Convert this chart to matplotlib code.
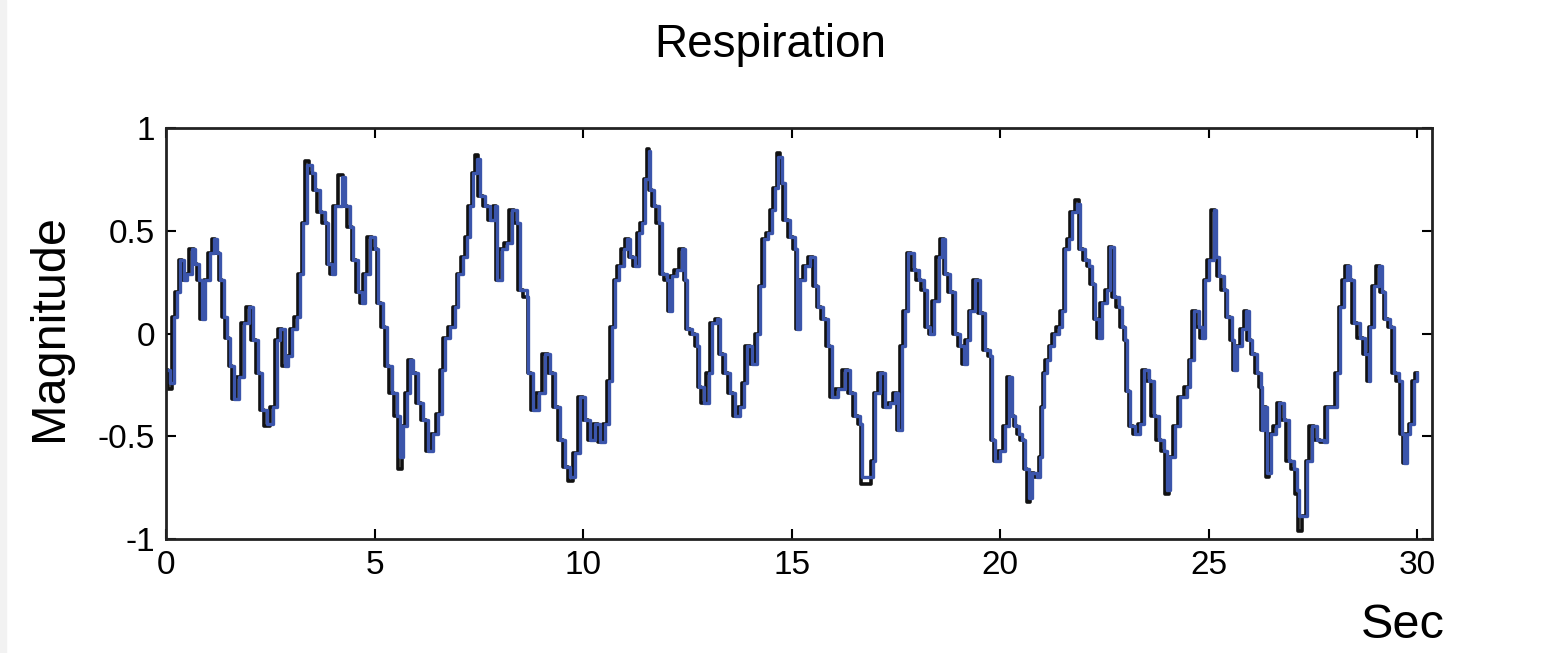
"""
Respiration signal, two overlaid traces (black and blue), 0-30 s.
"""
import matplotlib
matplotlib.use('Agg')
import matplotlib.pyplot as plt
from matplotlib.patches import Rectangle

# time axis (s)
time_s = [
    0.00, 0.10, 0.18, 0.26, 0.34, 0.42, 0.50, 0.62, 0.70, 0.78, 0.86, 0.94, 1.06, 1.14, 1.22, 1.30, 1.38, 1.46,
    1.54, 1.62, 1.74, 1.86, 1.98, 2.09, 2.21, 2.29, 2.41, 2.57, 2.65, 2.73, 2.85, 2.93, 3.01, 3.13, 3.21, 3.29,
    3.37, 3.49, 3.57, 3.69, 3.81, 3.89, 3.97, 4.05, 4.21, 4.29, 4.41, 4.49, 4.61, 4.69, 4.77,
    4.89, 5.01, 5.09, 5.21, 5.29, 5.41, 5.53, 5.61, 5.69, 5.77, 5.85, 5.93, 6.05, 6.17, 6.29, 6.41, 6.53, 6.61,
    6.69, 6.81, 6.93, 7.01, 7.13, 7.21, 7.29, 7.37, 7.45, 7.53, 7.65, 7.77, 7.89, 7.93, 8.05, 8.17, 8.29, 8.41,
    8.49, 8.65, 8.69, 8.81, 8.93, 9.09, 9.21, 9.33, 9.45, 9.57, 9.69, 9.81,
    9.93, 10.05, 10.17, 10.29, 10.41, 10.53, 10.61, 10.69, 10.77, 10.85, 10.97, 11.05, 11.13, 11.25, 11.33,
    11.41, 11.49, 11.57, 11.61, 11.69, 11.81, 11.89, 12.01, 12.05, 12.13, 12.25, 12.37, 12.45, 12.49, 12.61,
    12.73, 12.77, 12.89, 13.01, 13.09, 13.21, 13.29, 13.41, 13.53, 13.65, 13.77, 13.85, 13.93, 14.05, 14.17,
    14.25, 14.33, 14.44, 14.52, 14.60, 14.68, 14.76, 14.84,
    14.96, 15.08, 15.12, 15.20, 15.32, 15.44, 15.56, 15.64, 15.76, 15.88, 15.96, 16.12, 16.28, 16.40, 16.52,
    16.64, 16.68, 16.84, 16.96, 17.00, 17.12, 17.24, 17.36, 17.48, 17.56, 17.64, 17.72, 17.80, 17.92, 18.04,
    18.16, 18.24, 18.32, 18.40, 18.52, 18.60, 18.68, 18.80, 18.92, 19.04, 19.12, 19.20, 19.28, 19.40, 19.52,
    19.64, 19.76, 19.80, 19.88,
    20.00, 20.12, 20.20, 20.28, 20.36, 20.44, 20.52, 20.60, 20.68, 20.76, 20.88, 20.96, 21.00, 21.04, 21.12,
    21.20, 21.28, 21.40, 21.48, 21.56, 21.64, 21.72, 21.84, 21.92, 22.04, 22.12, 22.20, 22.28, 22.36, 22.44,
    22.56, 22.64, 22.72, 22.84, 22.92, 23.00, 23.04, 23.12, 23.24, 23.36, 23.44, 23.56, 23.68, 23.80, 23.92,
    24.00, 24.08, 24.20, 24.32, 24.48, 24.56, 24.64, 24.76, 24.84, 24.92,
    25.00, 25.12, 25.16, 25.24, 25.36, 25.44, 25.56, 25.60, 25.68, 25.80, 25.88, 25.96, 26.04, 26.16, 26.24,
    26.28, 26.32, 26.40, 26.48, 26.60, 26.68, 26.80, 26.92, 27.03, 27.11, 27.15, 27.31, 27.35, 27.47, 27.59,
    27.75, 27.83, 27.99, 28.07, 28.15, 28.23, 28.31, 28.39, 28.47, 28.63, 28.75, 28.83, 28.87, 28.95, 29.07,
    29.15, 29.23, 29.35, 29.43, 29.55, 29.63, 29.67, 29.75, 29.83, 29.91, 29.99,
]

blue_mag = [
    -0.18, -0.24, 0.08, 0.20, 0.36, 0.26, 0.29, 0.41, 0.34, 0.26, 0.07, 0.26, 0.39, 0.46, 0.39, 0.26, 0.08, -0.02,
    -0.16, -0.32, -0.21, 0.05, 0.13, -0.03, -0.19, -0.37, -0.44, -0.36, -0.03, 0.02, -0.16, -0.11, 0.02, 0.08,
    0.29, 0.54, 0.82, 0.78, 0.70, 0.59, 0.54, 0.34, 0.29, 0.62, 0.76, 0.62, 0.52, 0.36, 0.20, 0.15, 0.29,
    0.47, 0.41, 0.15, 0.03, -0.16, -0.29, -0.40, -0.60, -0.45, -0.29, -0.13, -0.19, -0.34, -0.42, -0.57, -0.49,
    -0.39, -0.18, -0.02, 0.03, 0.13, 0.29, 0.37, 0.47, 0.62, 0.78, 0.85, 0.67, 0.62, 0.55, 0.62, 0.26, 0.41,
    0.44, 0.60, 0.54, 0.21, 0.18, -0.19, -0.37, -0.29, -0.10, -0.19, -0.36, -0.52, -0.65, -0.70, -0.58,
    -0.31, -0.42, -0.52, -0.44, -0.53, -0.44, -0.23, 0.03, 0.26, 0.33, 0.41, 0.46, 0.37, 0.33, 0.49, 0.54,
    0.75, 0.89, 0.70, 0.62, 0.54, 0.29, 0.26, 0.11, 0.28, 0.31, 0.41, 0.26, 0.02, 0.00, -0.06, -0.26, -0.34,
    -0.19, 0.05, 0.07, -0.10, -0.19, -0.29, -0.40, -0.36, -0.24, -0.06, -0.15, 0.00, 0.23, 0.46, 0.49, 0.60,
    0.71, 0.86, 0.73, 0.55,
    0.47, 0.41, 0.02, 0.26, 0.33, 0.37, 0.23, 0.13, 0.07, -0.06, -0.31, -0.27, -0.18, -0.29, -0.40, -0.44,
    -0.70, -0.70, -0.62, -0.29, -0.19, -0.36, -0.34, -0.29, -0.47, -0.06, 0.11, 0.39, 0.31, 0.26, 0.21, 0.03,
    0.00, 0.16, 0.37, 0.46, 0.29, 0.20, 0.00, -0.06, -0.15, -0.03, 0.11, 0.26, 0.10, -0.08, -0.11, -0.52, -0.62,
    -0.57, -0.45, -0.21, -0.40, -0.45, -0.49, -0.52, -0.66, -0.80, -0.68, -0.70, -0.60, -0.36, -0.19, -0.13,
    -0.06, 0.00, 0.03, 0.11, 0.41, 0.46, 0.59, 0.63, 0.41, 0.36, 0.33, 0.24, 0.07, -0.02, 0.15, 0.21, 0.42,
    0.18, 0.13, 0.03, -0.03, -0.28, -0.45, -0.49, -0.44, -0.18, -0.23, -0.40, -0.52, -0.57, -0.76, -0.60,
    -0.45, -0.31, -0.26, -0.13, 0.11, 0.03, -0.02, 0.26,
    0.36, 0.60, 0.37, 0.28, 0.21, 0.08, -0.03, -0.18, -0.06, 0.02, 0.11, -0.03, -0.10, -0.19, -0.26, -0.47,
    -0.36, -0.68, -0.49, -0.45, -0.34, -0.42, -0.62, -0.66, -0.76, -0.89, -0.89, -0.62, -0.45, -0.52, -0.53,
    -0.36, -0.36, -0.19, 0.13, 0.26, 0.33, 0.26, 0.05, -0.02, -0.10, -0.23, 0.03, 0.23, 0.33, 0.20, 0.07,
    0.03, -0.19, -0.23, -0.49, -0.63, -0.49, -0.44, -0.23, -0.19,
]

# black trace sits under the blue one, dips a bit deeper in places
black_mag = [
    -0.18, -0.27, 0.08, 0.20, 0.36, 0.26, 0.29, 0.41, 0.34, 0.26, 0.07, 0.26, 0.39, 0.46, 0.39, 0.26, 0.08, -0.02,
    -0.16, -0.32, -0.21, 0.05, 0.13, -0.03, -0.19, -0.37, -0.45, -0.36, -0.03, 0.02, -0.16, -0.11, 0.02, 0.08,
    0.29, 0.54, 0.84, 0.78, 0.70, 0.59, 0.54, 0.34, 0.29, 0.62, 0.77, 0.62, 0.52, 0.36, 0.20, 0.15, 0.29,
    0.47, 0.41, 0.15, 0.03, -0.16, -0.29, -0.40, -0.66, -0.45, -0.29, -0.13, -0.19, -0.34, -0.42, -0.57, -0.49,
    -0.39, -0.18, -0.02, 0.03, 0.13, 0.29, 0.37, 0.47, 0.62, 0.78, 0.87, 0.67, 0.62, 0.55, 0.62, 0.26, 0.41,
    0.44, 0.60, 0.54, 0.21, 0.18, -0.19, -0.37, -0.29, -0.10, -0.19, -0.36, -0.52, -0.65, -0.72, -0.58,
    -0.31, -0.42, -0.52, -0.44, -0.53, -0.44, -0.23, 0.03, 0.26, 0.33, 0.41, 0.46, 0.37, 0.33, 0.49, 0.54,
    0.75, 0.90, 0.70, 0.62, 0.54, 0.29, 0.26, 0.11, 0.28, 0.31, 0.41, 0.26, 0.02, 0.00, -0.06, -0.26, -0.34,
    -0.19, 0.05, 0.07, -0.10, -0.19, -0.29, -0.40, -0.36, -0.24, -0.06, -0.15, 0.00, 0.23, 0.46, 0.49, 0.60,
    0.71, 0.88, 0.73, 0.55,
    0.47, 0.41, 0.02, 0.26, 0.33, 0.37, 0.23, 0.13, 0.07, -0.06, -0.31, -0.27, -0.18, -0.29, -0.40, -0.44,
    -0.73, -0.73, -0.62, -0.29, -0.19, -0.36, -0.34, -0.29, -0.47, -0.06, 0.11, 0.39, 0.31, 0.26, 0.21, 0.03,
    0.00, 0.16, 0.37, 0.46, 0.29, 0.20, 0.00, -0.06, -0.15, -0.03, 0.11, 0.26, 0.10, -0.08, -0.11, -0.52, -0.62,
    -0.57, -0.45, -0.21, -0.40, -0.45, -0.49, -0.52, -0.66, -0.82, -0.68, -0.70, -0.60, -0.36, -0.19, -0.13,
    -0.06, 0.00, 0.03, 0.11, 0.41, 0.46, 0.59, 0.65, 0.41, 0.36, 0.33, 0.24, 0.07, -0.02, 0.15, 0.21, 0.42,
    0.18, 0.13, 0.03, -0.03, -0.28, -0.45, -0.49, -0.44, -0.18, -0.23, -0.40, -0.52, -0.57, -0.78, -0.60,
    -0.45, -0.31, -0.26, -0.13, 0.11, 0.03, -0.02, 0.26,
    0.36, 0.60, 0.37, 0.28, 0.21, 0.08, -0.03, -0.18, -0.06, 0.02, 0.11, -0.03, -0.10, -0.19, -0.26, -0.47,
    -0.36, -0.70, -0.49, -0.45, -0.34, -0.42, -0.62, -0.66, -0.78, -0.96, -0.89, -0.62, -0.45, -0.52, -0.53,
    -0.36, -0.36, -0.19, 0.13, 0.26, 0.33, 0.26, 0.05, -0.02, -0.10, -0.23, 0.03, 0.23, 0.33, 0.20, 0.07,
    0.03, -0.19, -0.23, -0.49, -0.63, -0.49, -0.44, -0.23, -0.19,
]

x_ticks = [0, 5, 10, 15, 20, 25, 30]
y_ticks = [-1, -0.5, 0, 0.5, 1]
y_tick_labels = ['-1', '-0.5', '0', '0.5', '1']


def gen_graph():
    plt.rcParams['font.family'] = ['Liberation Sans', 'DejaVu Sans']
    plt.rcParams['axes.unicode_minus'] = False

    fig = plt.figure(figsize=(15.6, 6.53), dpi=100)
    # light grey strip on the left edge of the screenshot
    fig.patches.append(Rectangle((0, 0), 6 / 1560, 1, transform=fig.transFigure,
                                 color='#f2f2f2', zorder=0))

    ax = fig.add_axes([166 / 1560, 1 - 539 / 653, (1432 - 166) / 1560, (539 - 128) / 653])
    ax.plot(time_s, black_mag, color='#111111', lw=2.6, drawstyle='steps-mid')
    ax.plot(time_s, blue_mag, color='#3b55ab', lw=2.4, drawstyle='steps-post')

    ax.set_xlim(0, 30.35)
    ax.set_ylim(-1, 1)
    ax.set_xticks(x_ticks)
    ax.set_yticks(y_ticks)
    ax.set_yticklabels(y_tick_labels)
    ax.tick_params(direction='in', length=7, width=1.5, labelsize=24,
                   top=True, right=True, pad=8)
    for sp in ax.spines.values():
        sp.set_linewidth(2.0)
        sp.set_color('#222222')

    fig.text(770 / 1560, 1 - 45 / 653, 'Respiration', ha='center', va='center', fontsize=33)
    fig.text(50 / 1560, 1 - 328 / 653, 'Magnitude', ha='center', va='center',
             rotation=90, fontsize=35)
    fig.text(1403 / 1560, 1 - 625 / 653, 'Sec', ha='center', va='center', fontsize=35)

    fig.savefig('out.png', dpi=100)


def main():
    gen_graph()


if __name__ == '__main__':
    main()
